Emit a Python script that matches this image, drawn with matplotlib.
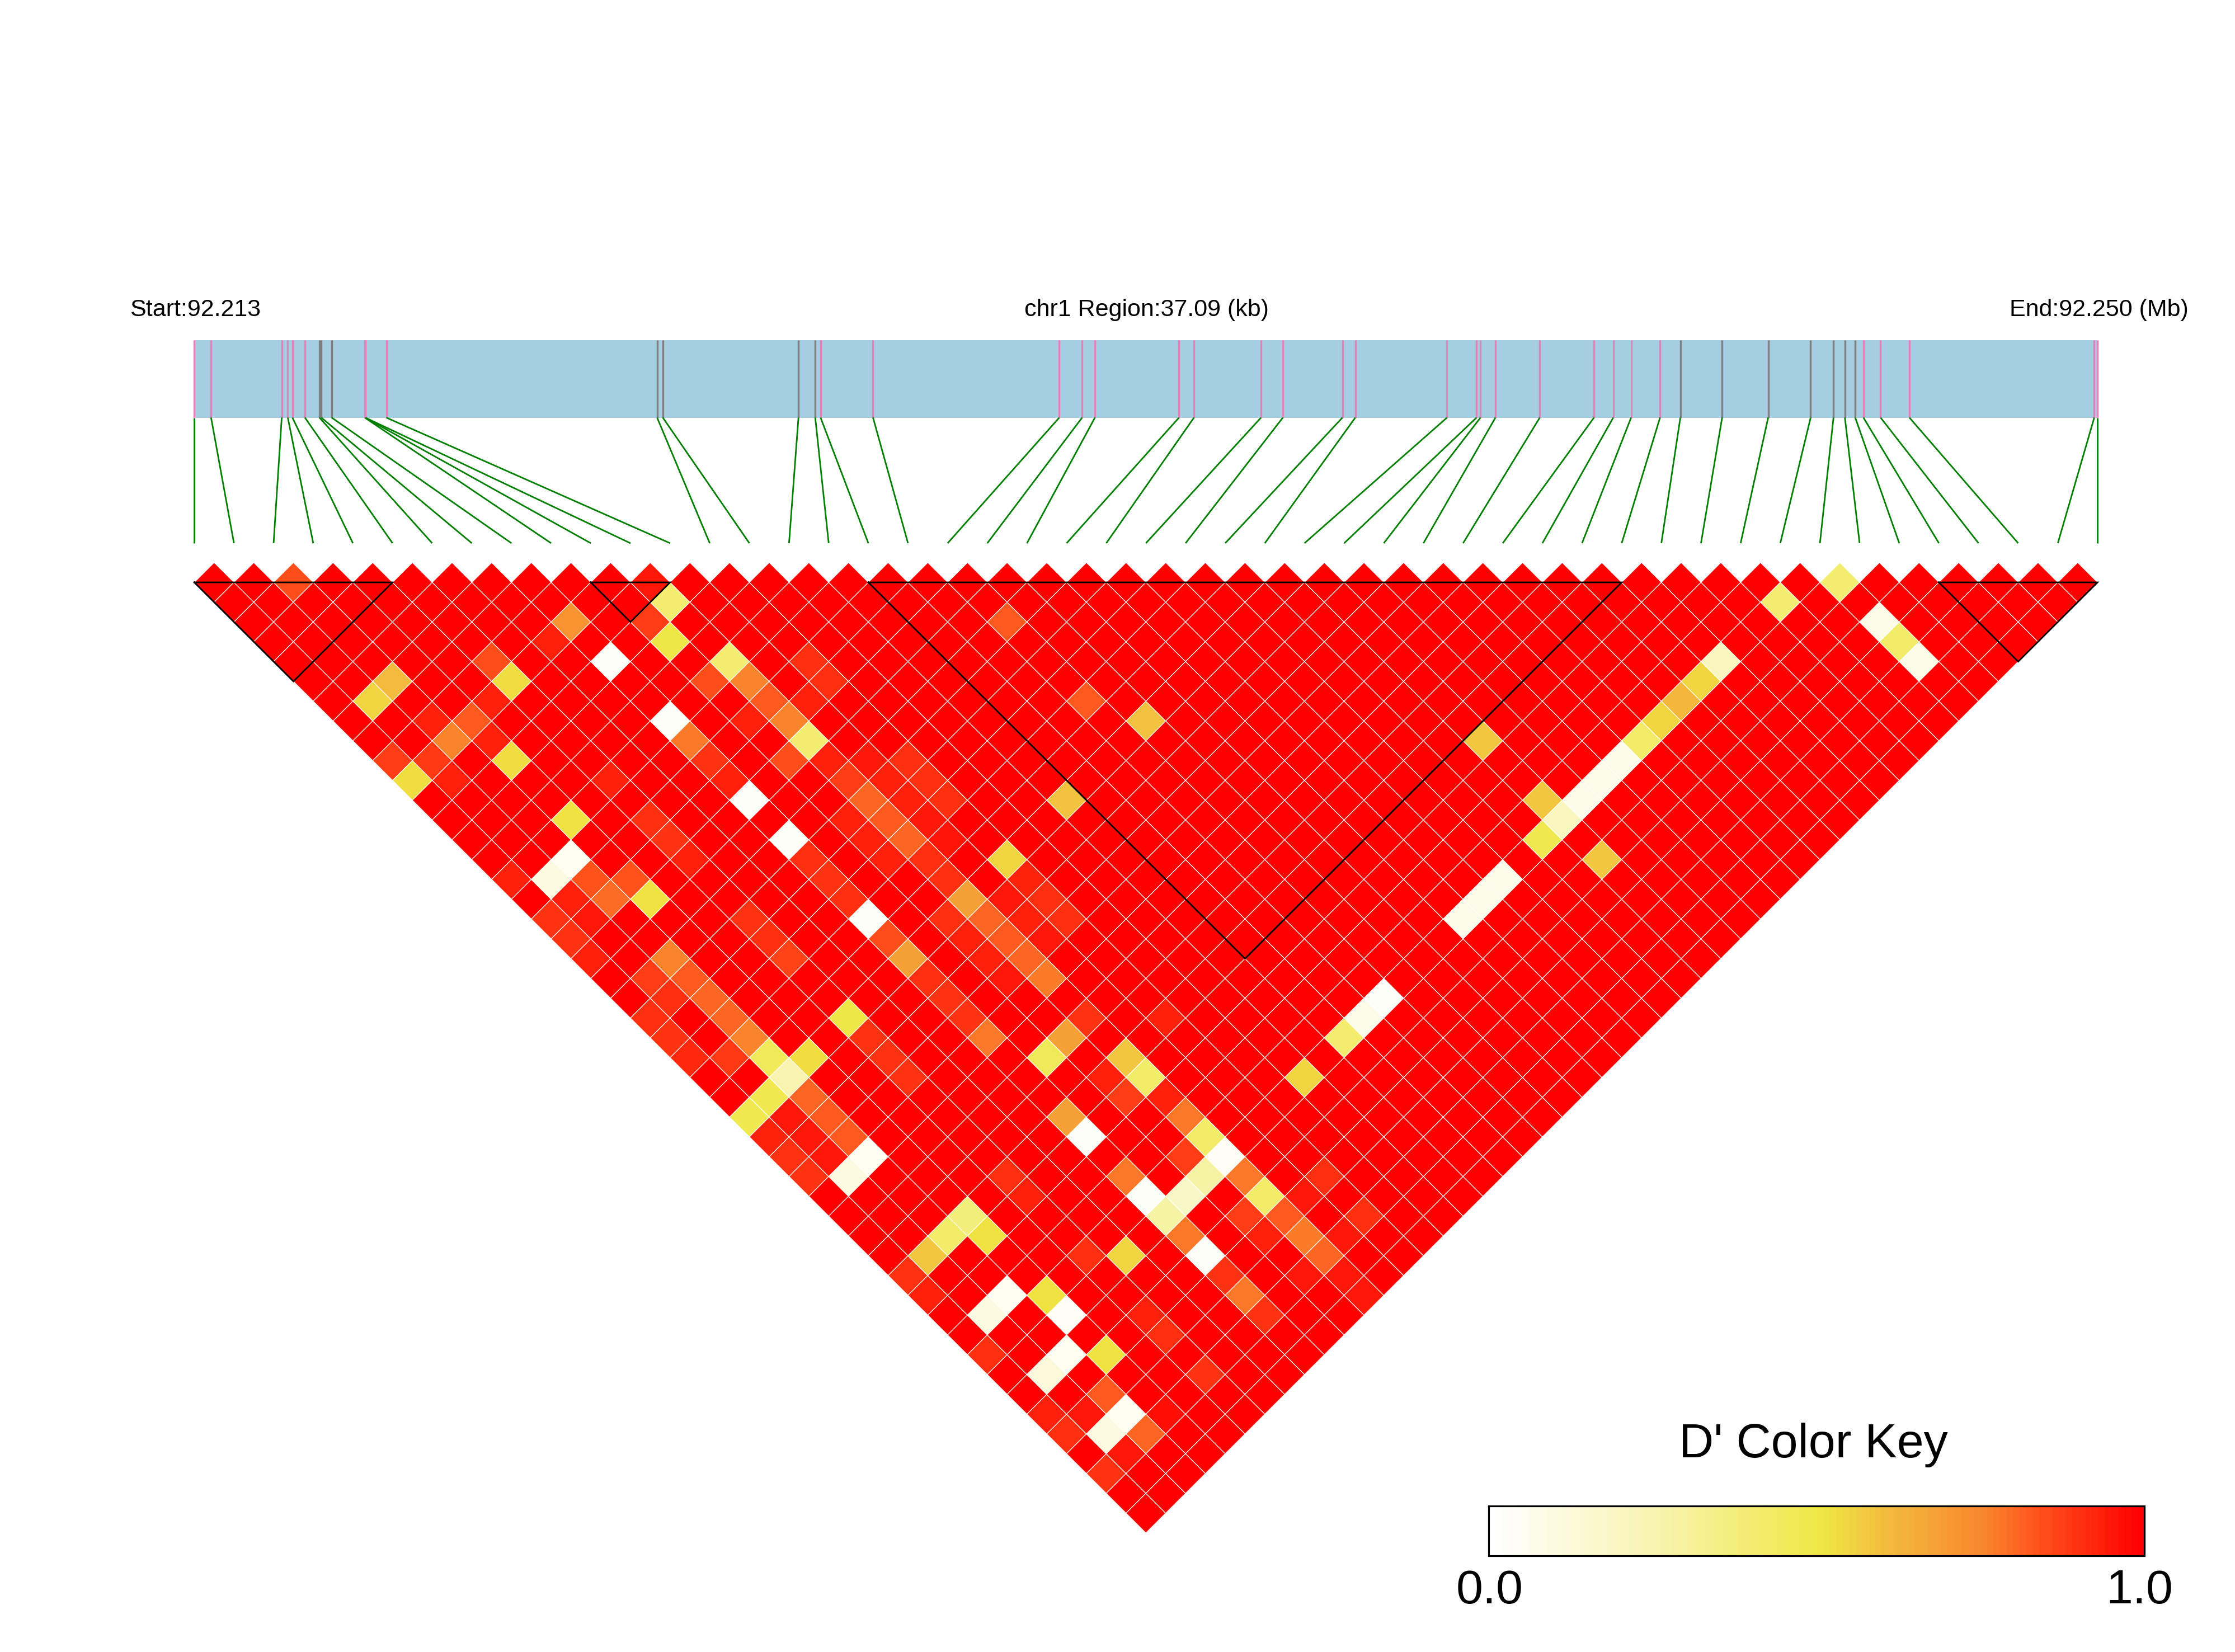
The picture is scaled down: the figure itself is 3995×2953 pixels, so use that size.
import numpy as np
import matplotlib
matplotlib.use("Agg")
import matplotlib.pyplot as plt
from matplotlib.collections import PolyCollection
from matplotlib.colors import LinearSegmentedColormap

plt.rcParams['font.family'] = ['Liberation Sans', 'DejaVu Sans']

# snp positions along the region, kb from the start
snp_kb = [0.000, 0.327, 1.704, 1.822, 1.912, 2.156, 2.439, 2.476, 2.678, 3.322,
          3.329, 3.333, 3.742, 9.020, 9.131, 11.774, 12.101, 12.205, 13.227, 16.857,
          17.302, 17.552, 19.190, 19.482, 20.789, 21.214, 22.375, 22.626, 24.413, 24.989,
          25.066, 25.357, 26.221, 27.278, 27.653, 28.001, 28.565, 28.961, 29.775, 30.672,
          31.500, 31.945, 32.167, 32.369, 32.529, 32.863, 33.425, 37.027, 37.090]
region_kb = 37.09

# snps drawn grey in the gene bar, all the others are pink
grey_snps = [6, 7, 8, 13, 14, 15, 16, 37, 38, 39, 40, 41, 42, 43]

# LD blocks (first snp, last snp)
blocks = [(0, 5), (10, 12), (17, 36), (44, 48)]

# D' of the pairs that are not 1.0: (snp i, snp j, D')
pairs = [
    (2, 3, .85), (8, 11, .72), (11, 12, .95), (10, 13, .88), (11, 13, .40), (10, 14, .50),
    (8, 13, .02), (7, 11, .94), (5, 10, .85), (5, 11, .53), (4, 11, .94), (2, 8, .61),
    (1, 8, .55), (3, 11, .83), (2, 10, .94), (2, 11, .76), (3, 12, .94), (3, 13, .53),
    (0, 10, .88), (1, 11, .89), (0, 11, .53), (1, 12, .94), (11, 16, .40), (10, 16, .85),
    (11, 17, .76), (11, 18, .83), (13, 18, .91), (13, 19, .91), (12, 19, .94), (11, 19, .76),
    (10, 18, .94), (11, 20, .40), (8, 16, .02), (8, 17, .78), (8, 18, .90), (8, 19, .94),
    (10, 20, .85), (8, 20, .02), (5, 16, .94), (3, 16, .52), (5, 18, .91), (5, 19, .90),
    (5, 20, .94), (8, 22, .02), (8, 23, .91), (8, 24, .90), (2, 17, .05), (1, 17, .10),
    (0, 16, .94), (2, 18, .84), (3, 19, .84), (2, 19, .80), (3, 20, .52), (1, 18, .94),
    (0, 18, .90), (1, 19, .95), (0, 19, .90), (0, 20, .94), (5, 23, .90), (5, 24, .91),
    (5, 25, .87), (2, 22, .76), (1, 22, .88), (2, 23, .83), (2, 24, .81), (1, 23, .91),
    (11, 21, .94), (19, 22, .83), (19, 26, .83), (20, 28, .59), (12, 22, .95), (13, 23, .91),
    (11, 22, .88), (12, 23, .94), (13, 24, .91), (11, 23, .81), (12, 24, .94), (13, 25, .91),
    (10, 23, .94), (11, 24, .83), (12, 25, .95), (10, 24, .94), (11, 25, .81), (12, 26, .96),
    (16, 28, .59), (13, 28, .55), (8, 25, .91), (8, 26, .02), (8, 27, .85), (8, 28, .68),
    (8, 29, .91), (8, 30, .90), (10, 25, .94), (11, 26, .91), (11, 27, .91), (11, 28, .68),
    (10, 28, .91), (11, 29, .81), (11, 30, .83), (11, 31, .81), (11, 32, .77), (10, 29, .94),
    (10, 30, .94), (13, 29, .93), (13, 30, .91), (13, 31, .91), (12, 30, .94), (12, 29, .95),
    (12, 31, .95), (10, 31, .95), (5, 28, .50), (2, 25, .81), (2, 26, .76), (2, 27, .45),
    (2, 28, .25), (1, 28, .48), (0, 28, .48), (3, 28, .53), (0, 23, .91), (0, 24, .90),
    (0, 25, .92), (1, 26, .89), (2, 29, .81), (2, 30, .83), (2, 31, .83), (0, 29, .93),
    (0, 30, .90), (0, 31, .90), (1, 29, .95), (1, 30, .95), (1, 31, .95), (2, 32, .05),
    (1, 32, .10), (5, 29, .90), (5, 30, .90), (5, 31, .90), (8, 31, .90), (8, 32, .78),
    (11, 34, .90), (10, 34, .68), (9, 34, .46), (11, 36, .58), (11, 37, .42), (10, 36, .94),
    (10, 37, .88), (13, 36, .94), (11, 38, .94), (11, 39, .78), (11, 40, .42), (10, 40, .88),
    (11, 41, .04), (10, 41, .28), (9, 41, .18), (8, 40, .02), (8, 41, .28), (8, 39, .78),
    (8, 36, .68), (8, 37, .02), (5, 36, .91), (5, 37, .94), (11, 42, .78), (11, 43, .42),
    (10, 43, .88), (11, 44, .83), (10, 44, .94), (8, 42, .78), (8, 43, .02), (8, 44, .90),
    (8, 45, .78), (8, 46, .90), (6, 41, .55), (5, 40, .91), (3, 36, .38), (2, 36, .42),
    (3, 37, .52), (1, 36, .58), (0, 36, .90), (0, 37, .94), (2, 39, .05), (1, 39, .10),
    (3, 40, .52), (3, 41, .03), (0, 40, .91), (2, 42, .05), (1, 42, .12), (3, 43, .52),
    (2, 44, .83), (2, 45, .05), (1, 45, .10), (2, 46, .81), (1, 44, .95), (0, 43, .94),
    (0, 44, .91), (1, 46, .95), (0, 46, .90), (5, 43, .94), (5, 44, .91), (5, 46, .90),
    (3, 46, .97), (39, 41, .40), (41, 42, .40), (41, 44, .08), (41, 45, .42), (41, 46, .08),
    (28, 37, .58), (36, 41, .20), (35, 41, .55), (34, 41, .62), (33, 41, .55), (32, 41, .42),
    (31, 41, .07), (30, 41, .07), (29, 41, .07), (28, 41, .20), (27, 41, .48), (28, 40, .58),
    (28, 43, .58), (25, 41, .07), (24, 41, .07), (23, 41, .07), (19, 41, .02), (18, 41, .07),
    (17, 41, .41), (15, 41, .55), (11, 45, .77), (11, 46, .81), (12, 44, .95), (13, 44, .91),
    (13, 46, .91), (12, 46, .95), (10, 46, .95), (11, 47, .95), (11, 48, .95),
]

key_stops = [(0.0, '#FFFFFF'), (0.25, '#F8F4B0'), (0.51, '#EFE742'), (0.60, '#F3BE3E'),
             (0.75, '#F88A2E'), (0.85, '#FF4E1A'), (1.0, '#FF0000')]
ld_cmap = LinearSegmentedColormap.from_list('ld', key_stops)

# page layout, in pixels of the 3995x2953 figure
left, right = 347.3, 3749.2
heat_top = 1041.0
half_w = (right - left) / 96
half_h = 35.4
bar_top, bar_bot = 607.5, 746.5
link_bot = 971.0

fig = plt.figure(figsize=(39.95, 29.53), dpi=100)
ax = fig.add_axes([0, 0, 1, 1])
ax.set_xlim(0, 3995)
ax.set_ylim(2953, 0)
ax.axis('off')


def px(w):
    return w * 72 / 100


n_snp = len(snp_kb)
snp_x = left + np.array(snp_kb) / region_kb * (right - left)
link_x = left + np.arange(n_snp) * 2 * half_w

# gene bar
ax.fill_between([left, right], bar_top, bar_bot, color='#A6CEE3', lw=0, zorder=1)
for n, x in enumerate(snp_x):
    col = '#808080' if n in grey_snps else '#DE85B8'
    ax.plot([x, x], [bar_top, bar_bot], color=col, lw=px(3.4), solid_capstyle='butt', zorder=2)
    ax.plot([x, link_x[n]], [bar_bot, link_bot], color='#008000', lw=px(2.8),
            solid_capstyle='butt', zorder=2)

# D' matrix, cells turned 45 degrees
dprime = np.ones((n_snp, n_snp))
for a, b, v in pairs:
    dprime[a, b] = v

verts = []
vals = []
for i in range(n_snp - 1):
    for j in range(i + 1, n_snp):
        k = i + j
        r = j - i - 1
        cx = left + k * half_w
        cy = heat_top + r * half_h
        verts.append([(cx - half_w, cy), (cx, cy - half_h), (cx + half_w, cy), (cx, cy + half_h)])
        vals.append(dprime[i, j])
cells = PolyCollection(verts, array=np.array(vals), cmap=ld_cmap, clim=(0, 1),
                       edgecolors='white', linewidths=px(1.15), zorder=3)
ax.add_collection(cells)

# block outlines
for a, b in blocks:
    xa, xb = link_x[a], link_x[b]
    apex = heat_top + (b - a) * half_h
    ax.plot([xa, xb, (xa + xb) / 2, xa], [heat_top, heat_top, apex, heat_top],
            color='black', lw=px(2.8), solid_joinstyle='miter', zorder=4)

# header text
ax.text(232, 565, 'Start:92.213', fontsize=31, ha='left', va='baseline')
ax.text(2049, 565, 'chr1 Region:37.09 (kb)', fontsize=31, ha='center', va='baseline')
ax.text(3912, 565, 'End:92.250 (Mb)', fontsize=31, ha='right', va='baseline')

# colour key
key_x0, key_x1 = 2661, 3833
key_y0, key_y1 = 2692, 2781
key_edges = np.linspace(key_x0, key_x1, 101)
key_vals = np.linspace(0, 1, 100).reshape(1, -1)
ax.pcolormesh(key_edges, [key_y0, key_y1], key_vals, cmap=ld_cmap, vmin=0, vmax=1, zorder=3)
ax.plot([key_x0, key_x1, key_x1, key_x0, key_x0], [key_y0, key_y0, key_y1, key_y1, key_y0],
        color='black', lw=px(3.2), solid_joinstyle='miter', zorder=4)
ax.text(3241, 2605, "D' Color Key", fontsize=62, ha='center', va='baseline')
ax.text(2663, 2866, '0.0', fontsize=62, ha='center', va='baseline')
ax.text(3824, 2866, '1.0', fontsize=62, ha='center', va='baseline')

fig.savefig('out.png', dpi=100, facecolor='white')
